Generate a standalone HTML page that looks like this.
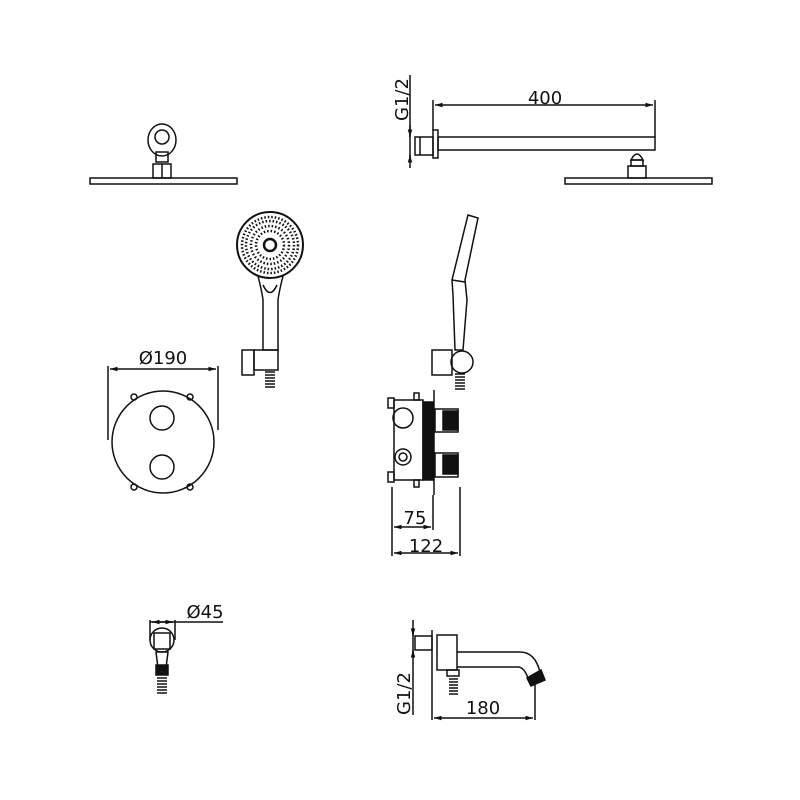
<!DOCTYPE html>
<html><head><meta charset="utf-8"><style>body{margin:0;background:#fff}svg{display:block}</style></head><body>
<svg width="800" height="800" viewBox="0 0 800 800" xmlns="http://www.w3.org/2000/svg" font-family="DejaVu Sans, sans-serif" fill="none" stroke="#111" stroke-width="1.5">
<defs><marker id="a" viewBox="0 0 10 10" refX="10" refY="5" markerWidth="7" markerHeight="5" orient="auto-start-reverse"><path d="M0,2 L10,5 L0,8" fill="#111" stroke="none"/></marker></defs>
<!-- top left shower head -->
<rect x="90" y="178" width="147" height="6"/>
<ellipse cx="162" cy="140" rx="14" ry="16"/>
<circle cx="162" cy="137" r="7"/>
<rect x="156" y="152" width="12" height="10"/>
<rect x="153" y="164" width="18" height="14"/>
<line x1="162" y1="164" x2="162" y2="178"/>
<!-- top right arm -->
<line x1="410" y1="75" x2="410" y2="160"/>
<text x="0" y="0" transform="translate(408,121) rotate(-90)" font-size="18" fill="#111" stroke="none">G1/2</text>
<line x1="410" y1="125" x2="410" y2="137" marker-end="url(#a)"/>
<line x1="410" y1="168" x2="410" y2="155" marker-end="url(#a)"/>
<rect x="415" y="137" width="18" height="18"/>
<line x1="420" y1="137" x2="420" y2="155"/>
<rect x="433" y="130" width="5" height="28"/>
<rect x="438" y="137" width="217" height="13"/>
<line x1="433" y1="100" x2="433" y2="130"/>
<line x1="655" y1="100" x2="655" y2="137"/>
<line x1="435" y1="105" x2="653" y2="105" marker-start="url(#a)" marker-end="url(#a)"/>
<text x="545" y="104" font-size="18" fill="#111" stroke="none" text-anchor="middle">400</text>
<path d="M631 160 Q637 148 643 160 Z"/>
<rect x="631" y="160" width="12" height="6"/>
<rect x="628" y="166" width="18" height="12"/>
<rect x="565" y="178" width="147" height="6"/>
<!-- hand shower front -->
<circle cx="270" cy="245" r="33" stroke-width="2"/>
<circle cx="270" cy="245" r="28" stroke-dasharray="1.5 2" stroke-width="2.5"/>
<circle cx="270" cy="245" r="24" stroke-dasharray="1.5 2" stroke-width="2.5"/>
<circle cx="270" cy="245" r="19" stroke-dasharray="1.5 2" stroke-width="2.5"/>
<circle cx="270" cy="245" r="14" stroke-dasharray="1.5 2" stroke-width="2.5"/>
<circle cx="270" cy="245" r="6" stroke-width="2.5"/>
<path d="M258 276 Q262 292 263 300 L263 350 L278 350 L278 300 Q279 292 283 276"/>
<path d="M263 285 Q270 300 277 285"/>
<rect x="242" y="350" width="12" height="25"/>
<rect x="254" y="350" width="24" height="20"/>
<path d="M265 372h10M265 375h10M265 378h10M265 381h10M265 384h10M265 387h10" stroke-width="1.5"/>
<!-- hand shower side -->
<path d="M468 215 L478 218 L465 280 L467 300 L463 350 L455 350 L453 295 L452 280 Z"/>
<line x1="452" y1="280" x2="465" y2="282"/>
<rect x="432" y="350" width="20" height="25"/>
<circle cx="462" cy="362" r="11"/>
<path d="M455 374h10M455 377h10M455 380h10M455 383h10M455 386h10M455 389h10" stroke-width="1.5"/>
<!-- Ø190 -->
<text x="163" y="364" font-size="18" fill="#111" stroke="none" text-anchor="middle">Ø190</text>
<line x1="110" y1="369" x2="216" y2="369" marker-start="url(#a)" marker-end="url(#a)"/>
<line x1="108" y1="366" x2="108" y2="440"/>
<line x1="218" y1="366" x2="218" y2="430"/>
<circle cx="163" cy="442" r="51"/>
<circle cx="162" cy="418" r="12"/>
<circle cx="162" cy="467" r="12"/>
<circle cx="134" cy="397" r="3"/><circle cx="190" cy="397" r="3"/>
<circle cx="134" cy="487" r="3"/><circle cx="190" cy="487" r="3"/>
<!-- valve side -->
<rect x="394" y="400" width="29" height="80"/>
<rect x="388" y="398" width="6" height="10"/><rect x="388" y="472" width="6" height="10"/>
<rect x="414" y="393" width="5" height="7"/><rect x="414" y="480" width="5" height="7"/>
<rect x="423" y="402" width="10" height="78" fill="#111"/>
<line x1="434" y1="390" x2="434" y2="495"/>
<circle cx="403" cy="418" r="10"/>
<circle cx="403" cy="457" r="8"/><circle cx="403" cy="457" r="4"/>
<rect x="435" y="409" width="23" height="23"/><rect x="443" y="411" width="15" height="19" fill="#111"/>
<rect x="435" y="453" width="23" height="24"/><rect x="443" y="455" width="15" height="19" fill="#111"/>
<line x1="392" y1="487" x2="392" y2="556"/>
<line x1="433" y1="495" x2="433" y2="530"/>
<line x1="460" y1="487" x2="460" y2="556"/>
<text x="415" y="524" font-size="18" fill="#111" stroke="none" text-anchor="middle">75</text>
<line x1="394" y1="527" x2="431" y2="527" marker-start="url(#a)" marker-end="url(#a)"/>
<text x="426" y="552" font-size="18" fill="#111" stroke="none" text-anchor="middle">122</text>
<line x1="394" y1="553" x2="458" y2="553" marker-start="url(#a)" marker-end="url(#a)"/>
<!-- Ø45 -->
<text x="205" y="618" font-size="18" fill="#111" stroke="none" text-anchor="middle">Ø45</text>
<line x1="150" y1="622" x2="223" y2="622"/>
<line x1="152" y1="622" x2="173" y2="622" marker-start="url(#a)" marker-end="url(#a)"/>
<line x1="150" y1="620" x2="150" y2="640"/>
<line x1="175" y1="620" x2="175" y2="640"/>
<circle cx="162" cy="640" r="12"/>
<rect x="154" y="633" width="16" height="16"/>
<path d="M156 652 L168 652 L166 668 L158 668 Z"/>
<rect x="156" y="665" width="12" height="10" fill="#111"/>
<path d="M157 678h10M157 681h10M157 684h10M157 687h10M157 690h10M157 693h10" stroke-width="1.5"/>
<!-- spout -->
<line x1="413" y1="620" x2="413" y2="715"/>
<text x="0" y="0" transform="translate(410,715) rotate(-90)" font-size="18" fill="#111" stroke="none">G1/2</text>
<line x1="413" y1="628" x2="413" y2="636" marker-end="url(#a)"/>
<line x1="413" y1="658" x2="413" y2="650" marker-end="url(#a)"/>
<rect x="415" y="636" width="17" height="14"/>
<line x1="432" y1="630" x2="432" y2="720"/>
<rect x="437" y="635" width="20" height="35"/>
<path d="M457 652 L520 652 Q535 652 540 672 L528 678 Q524 667 518 667 L457 667"/>
<path d="M527 678 L541 670 L545 680 L531 686 Z" fill="#111"/>
<rect x="447" y="670" width="12" height="6"/>
<path d="M449 679h9M449 682h9M449 685h9M449 688h9M449 691h9M449 694h9" stroke-width="1.5"/>
<line x1="535" y1="685" x2="535" y2="720"/>
<text x="483" y="714" font-size="18" fill="#111" stroke="none" text-anchor="middle">180</text>
<line x1="434" y1="718" x2="533" y2="718" marker-start="url(#a)" marker-end="url(#a)"/>
</svg>
</body></html>
